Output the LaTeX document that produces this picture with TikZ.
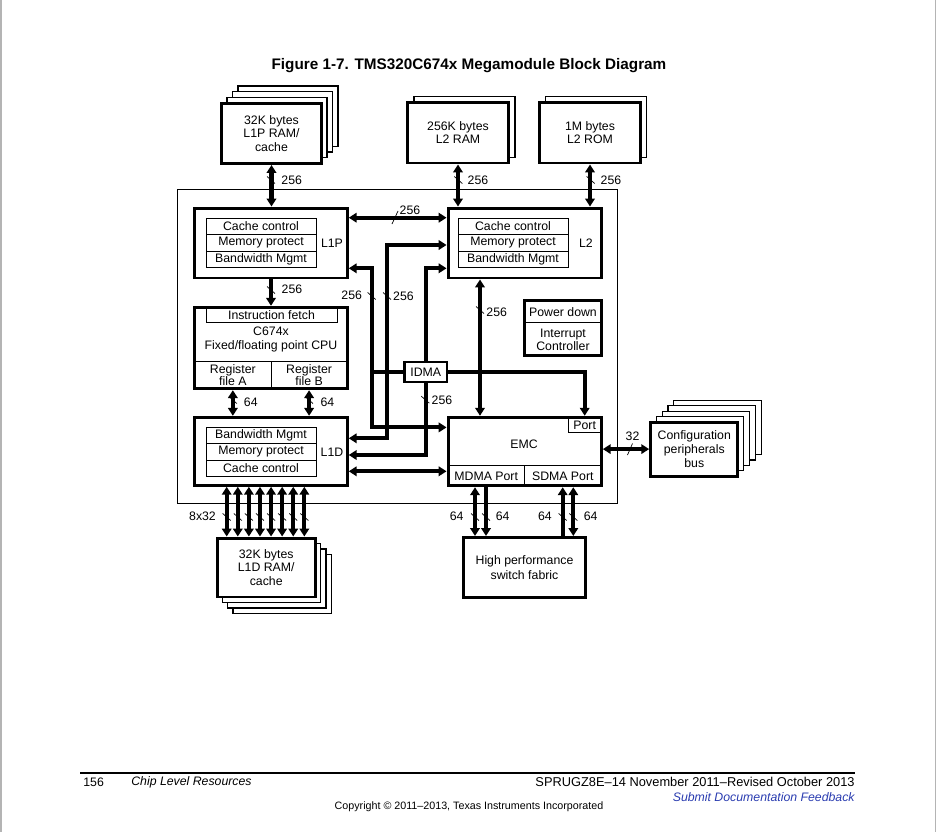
\documentclass[tikz,border=0pt]{standalone}
\usepackage{fontspec}
\setmainfont{Liberation Sans}
\usepackage{xcolor}
\usepackage{tikz}
\usetikzlibrary{positioning, arrows.meta, calc}
\definecolor{tiBlue}{HTML}{2A3CB0}
\definecolor{pageGray}{HTML}{B4B4B4}
\newcommand\dgfont{\fontsize{7}{7.7}\selectfont}
\newcommand\wtick[2]{\draw[slashmark] (#1-4,#2-3.5) -- (#1+4,#2+3.5);}

\begin{document}
\begin{tikzpicture}[x=0.02cm, y=-0.02cm,
    bigbox/.style={draw, line width=1.7pt, fill=white, inner sep=0pt, align=center, font=\dgfont},
    rowbox/.style={draw, line width=0.5pt, inner sep=0pt, outer sep=0pt, align=center, font=\dgfont},
    stackbox/.style={draw, line width=0.7pt, fill=white, inner sep=0pt},
    lbl/.style={inner sep=0pt, align=center, font=\dgfont},
    bus/.style={line width=2.3pt},
    bibus/.style={bus, {Triangle[length=4.5pt,width=5.4pt]}-{Triangle[length=4.5pt,width=5.4pt]}},
    tobus/.style={bus, -{Triangle[length=4.5pt,width=5.4pt]}},
    frombus/.style={bus, {Triangle[length=4.5pt,width=5.4pt]}-},
    slashmark/.style={line width=0.4pt}]
  \useasboundingbox (0,0) rectangle (938,832);
  \draw[pageGray, line width=1pt] (1,0) -- (1,832);
  \draw[pageGray, line width=1pt] (935.5,0) -- (935.5,832);

  \node[font=\bfseries\fontsize{8.7}{10}\selectfont, inner sep=0pt] (title) at (469,66)
    {Figure 1-7. TMS320C674x Megamodule Block Diagram};

  \node[draw, line width=0.6pt, minimum width=8.8cm, minimum height=6.29cm] (mega) at (397.5,346.75) {};

  % memories on top
  \foreach \k in {3,2,1}
    \node[stackbox, minimum width=2cm, minimum height=1.21cm] (l1pram\k) at (271.5+5.5*\k,133.25-5.7*\k) {};
  \node[bigbox, minimum width=2cm, minimum height=1.21cm] (l1pram) at (271.5,133.25) {32K bytes\\L1P RAM/\\cache};
  \node[stackbox, minimum width=2.02cm, minimum height=1.21cm] (l2ram1) at (464.5,127) {};
  \node[bigbox, minimum width=2.02cm, minimum height=1.21cm] (l2ram) at (458,132.75) {256K bytes\\L2 RAM};
  \node[stackbox, minimum width=2.02cm, minimum height=1.21cm] (l2rom1) at (596.3,127) {};
  \node[bigbox, minimum width=2.02cm, minimum height=1.21cm] (l2rom) at (590,132.75) {1M bytes\\L2 ROM};

  % L1P
  \node[bigbox, minimum width=3.05cm, minimum height=1.4cm] (l1p) at (271,243) {};
  \node[rowbox, minimum width=2.2cm, minimum height=0.33cm] (l1pcc) at (261,226.3) {Cache control};
  \node[rowbox, minimum width=2.2cm, minimum height=0.33cm, below=0pt of l1pcc] (l1pmp) {Memory protect};
  \node[rowbox, minimum width=2.2cm, minimum height=0.33cm, below=0pt of l1pmp] (l1pbw) {Bandwidth Mgmt};
  \node[lbl] (l1ptxt) at (332,243) {L1P};

  % L2
  \node[bigbox, minimum width=3.066cm, minimum height=1.4cm] (l2) at (524.7,243) {};
  \node[rowbox, minimum width=2.2cm, minimum height=0.33cm] (l2cc) at (513,226.3) {Cache control};
  \node[rowbox, minimum width=2.2cm, minimum height=0.33cm, below=0pt of l2cc] (l2mp) {Memory protect};
  \node[rowbox, minimum width=2.2cm, minimum height=0.33cm, below=0pt of l2mp] (l2bw) {Bandwidth Mgmt};
  \node[lbl] (l2txt) at (586,243) {L2};

  % CPU
  \node[bigbox, minimum width=3.05cm, minimum height=1.628cm] (cpu) at (271,348) {};
  \node[rowbox, minimum width=2.62cm, minimum height=0.3cm] (ifetch) at (271.5,314.8) {Instruction fetch};
  \node[lbl] (cputxt) at (271,339.5) {C674x\\Fixed/floating point CPU};
  \node[rowbox, minimum width=1.526cm, minimum height=0.554cm, font=\fontsize{7}{6.8}\selectfont] (rega) at (232.85,374.85) {Register\\file A};
  \node[rowbox, minimum width=1.526cm, minimum height=0.554cm, font=\fontsize{7}{6.8}\selectfont] (regb) at (309.1,374.85) {Register\\file B};

  % L1D
  \node[bigbox, minimum width=3.05cm, minimum height=1.36cm] (l1d) at (271,451.3) {};
  \node[rowbox, minimum width=2.2cm, minimum height=0.328cm] (l1dbw) at (261,435.5) {Bandwidth Mgmt};
  \node[rowbox, minimum width=2.2cm, minimum height=0.328cm, below=0pt of l1dbw] (l1dmp) {Memory protect};
  \node[rowbox, minimum width=2.2cm, minimum height=0.328cm, below=0pt of l1dmp] (l1dcc) {Cache control};
  \node[lbl] (l1dtxt) at (332,452) {L1D};

  % EMC
  \node[bigbox, minimum width=3.066cm, minimum height=1.37cm] (emc) at (524.7,451.5) {};
  \node[rowbox, minimum width=0.666cm, minimum height=0.308cm] (port) at (584.7,425) {Port};
  \node[lbl] (emctxt) at (524,444) {EMC};
  \node[rowbox, minimum width=1.526cm, minimum height=0.406cm] (mdma) at (486.2,475.9) {MDMA Port};
  \node[rowbox, minimum width=1.54cm, minimum height=0.406cm] (sdma) at (562.8,475.9) {SDMA Port};

  % power down / interrupts
  \node[bigbox, minimum width=1.532cm, minimum height=1.092cm] (pwr) at (563,328) {};
  \node[rowbox, minimum width=1.532cm, minimum height=0.44cm] (pwrdn) at (563,311.7) {Power down};
  \node[lbl] (intc) at (563,340) {Interrupt\\Controller};

  \node[bigbox, line width=1.4pt, minimum width=0.854cm, minimum height=0.404cm] (idma) at (425.8,372.1) {IDMA};

  % configuration bus
  \foreach \k in {4,3,2,1}
    \node[stackbox, minimum width=1.746cm, minimum height=1.084cm] (cfg\k) at (694.3+5.8*\k,449.1-5.4*\k) {};
  \node[bigbox, minimum width=1.746cm, minimum height=1.084cm] (cfg) at (694.3,449.1) {Configuration\\peripherals\\bus};

  % bottom
  \foreach \k in {3,2,1}
    \node[stackbox, minimum width=1.966cm, minimum height=1.18cm] (l1dram\k) at (266.2+5.3*\k,567.5+5.5*\k) {};
  \node[bigbox, minimum width=1.966cm, minimum height=1.18cm] (l1dram) at (266.2,567.5) {32K bytes\\L1D RAM/\\cache};
  \node[bigbox, minimum width=2.432cm, minimum height=1.21cm, font=\fontsize{7}{8.3}\selectfont] (fabric) at (524.5,567.7) {High performance\\switch fabric};

  % buses
  \draw[bibus] (l1pram.south) -- (l1pram.south |- l1p.north);
  \draw[bibus] (l2ram.south) -- (l2ram.south |- l2.north);
  \draw[bibus] (l2rom.south) -- (l2rom.south |- l2.north);
  \coordinate (hb) at (400,217.7);
  \draw[bibus] (l1p.east |- hb) -- (l2.west |- hb);
  \draw[tobus] (l1p.south) -- (l1p.south |- cpu.north);
  \draw[bibus] (rega.south |- cpu.south) -- (rega.south |- l1d.north);
  \draw[bibus] (regb.south |- cpu.south) -- (regb.south |- l1d.north);

  \coordinate (a1) at (371.7,268.3);
  \coordinate (a2) at (371.7,427.4);
  \draw[bibus] (l1p.east |- a1) -- (a1) -- (a2) -- (emc.west |- a2);
  \coordinate (b1) at (387,245);
  \coordinate (b2) at (387,438.3);
  \draw[bibus] (l2.west |- b1) -- (b1) -- (b2) -- (l1d.east |- b2);
  \coordinate (c1) at (425.3,268.3);
  \coordinate (c2) at (425.3,455);
  \draw[tobus] (idma.north) |- (l2.west |- c1);
  \draw[tobus] (idma.south) |- (l1d.east |- c2);
  \draw[bus] (a1 |- idma.west) -- (idma.west);
  \draw[tobus] (idma.east) -| (port.north |- emc.north);
  \coordinate (vx) at (480,300);
  \draw[bibus] (l2.south -| vx) -- (emc.north -| vx);
  \coordinate (f1) at (400,471.3);
  \draw[bibus] (l1d.east |- f1) -- (emc.west |- f1);
  \draw[bibus] (emc.east |- cfg.west) -- (cfg.west);

  \foreach \i in {0,...,7} {
    \coordinate (p\i) at (226.7+11.09*\i,510);
    \draw[bibus] (l1d.south -| p\i) -- (l1dram.north -| p\i);
    \wtick{226.7+11.09*\i}{517}
  }
  \coordinate (m1) at (475,510);
  \coordinate (m2) at (486,510);
  \coordinate (s1) at (562.7,510);
  \coordinate (s2) at (573.3,510);
  \draw[bibus] (emc.south -| m1) -- (fabric.north -| m1);
  \draw[tobus] (emc.south -| m2) -- (fabric.north -| m2);
  \draw[frombus] (emc.south -| s1) -- (fabric.north -| s1);
  \draw[bibus] (emc.south -| s2) -- (fabric.north -| s2);

  % widths
  \wtick{271}{180} \wtick{458.3}{180} \wtick{590.7}{180}
  \wtick{271}{290} \wtick{371.7}{296} \wtick{387}{296}
  \wtick{480}{310} \wtick{425.3}{399.7}
  \wtick{232.8}{400} \wtick{309}{400}
  \wtick{475}{517} \wtick{486}{517} \wtick{562.7}{517} \wtick{573.3}{517}
  \draw[slashmark] (392,224) -- (398,211);
  \draw[slashmark] (627.5,455) -- (632.5,443.5);
  \node[lbl] (w1) at (291.7,180) {256};
  \node[lbl] (w2) at (478,180) {256};
  \node[lbl] (w3) at (611,180) {256};
  \node[lbl] (w4) at (410,210) {256};
  \node[lbl] (w5) at (292,289.5) {256};
  \node[lbl] (w6) at (351.7,295) {256};
  \node[lbl] (w7) at (403.5,296.5) {256};
  \node[lbl] (w8) at (496.7,312.7) {256};
  \node[lbl] (w9) at (442,400.5) {256};
  \node[lbl] (w10) at (250.8,402.7) {64};
  \node[lbl] (w11) at (327.5,402.7) {64};
  \node[lbl] (w12) at (632.5,436) {32};
  \node[lbl] (w13) at (202.5,516.7) {8x32};
  \node[lbl] (w14) at (456.7,516.7) {64};
  \node[lbl] (w15) at (502.7,516.7) {64};
  \node[lbl] (w16) at (545,516.7) {64};
  \node[lbl] (w17) at (590.7,516.7) {64};

  % page footer
  \draw[line width=1.7pt] (80,773) -- (855,773);
  \node[anchor=west, inner sep=0pt, font=\fontsize{7}{8}\selectfont] (pgno) at (83,782) {156};
  \node[anchor=west, inner sep=0pt, font=\itshape\fontsize{7}{8}\selectfont] (chap) at (131,782) {Chip Level Resources};
  \node[anchor=east, inner sep=0pt, font=\fontsize{7.3}{8}\selectfont] (docid) at (855,782) {SPRUGZ8E–14 November 2011–Revised October 2013};
  \node[anchor=east, inner sep=0pt, font=\itshape\fontsize{7}{8}\selectfont, text=tiBlue] (fback) at (855,797) {Submit Documentation Feedback};
  \node[inner sep=0pt, font=\fontsize{6.1}{7}\selectfont] (copy) at (469,807) {Copyright © 2011–2013, Texas Instruments Incorporated};
\end{tikzpicture}
\end{document}
